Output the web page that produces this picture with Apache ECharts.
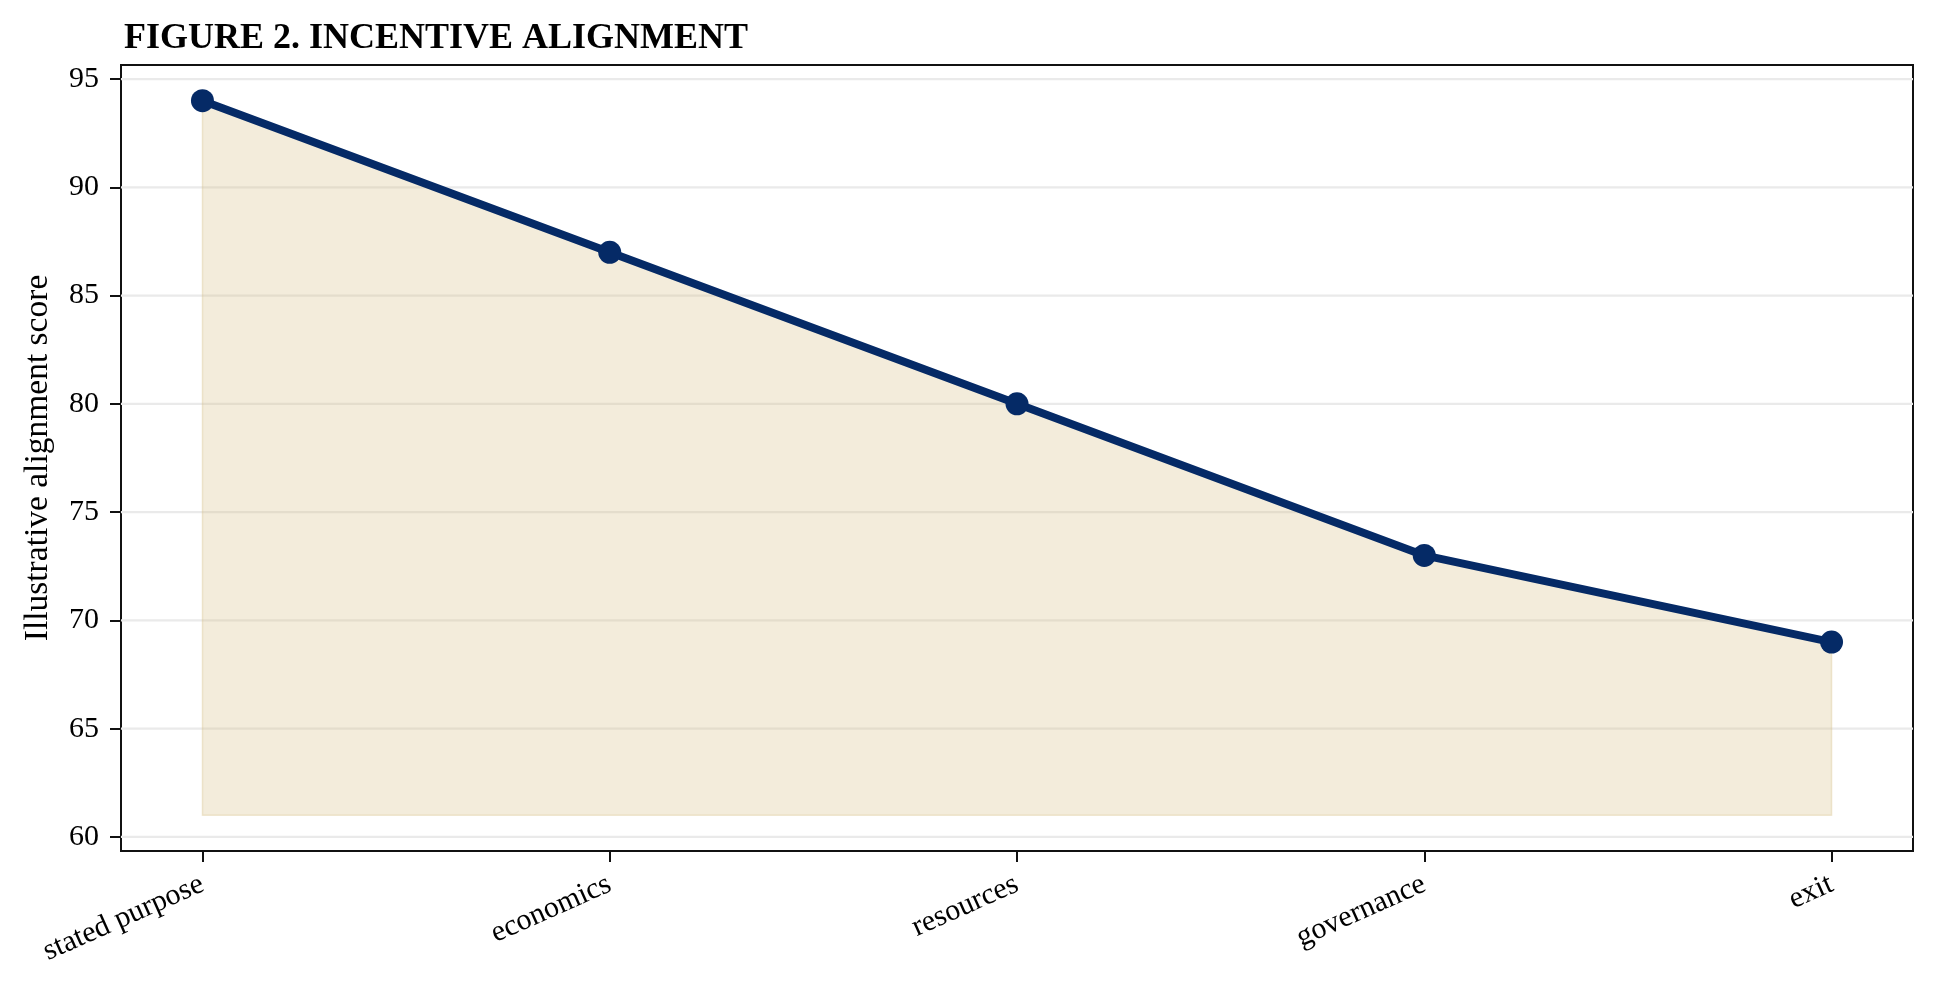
<!DOCTYPE html>
<html>
<head>
<meta charset="utf-8">
<script src="https://cdn.jsdelivr.net/npm/echarts@6/dist/echarts.min.js"></script>
<style>
html,body{margin:0;padding:0;background:#fff;}
#chart{width:1937px;height:983px;}
</style>
</head>
<body>
<div id="chart"></div>
<script>
const titleText = 'FIGURE 2. INCENTIVE ALIGNMENT';
const yAxisName = 'Illustrative alignment score';
const categories = ['stated purpose', 'economics', 'resources', 'governance', 'exit'];
const scores = [94, 87, 80, 73, 69];
const fillBase = 61;
const yTicks = [60, 65, 70, 75, 80, 85, 90, 95];
const xTicks = [0, 1, 2, 3, 4];

const FONT = '"Liberation Serif", "Times New Roman", serif';
const NAVY = '#052a66';

const lineData = categories.map((c, i) => [i, scores[i]]);
const gridData = yTicks.map(v => [0, v]);

const chart = echarts.init(document.getElementById('chart'), null, {renderer: 'canvas'});
chart.setOption({
  animation: false,
  backgroundColor: '#ffffff',
  title: {
    text: titleText,
    left: 119,
    top: 16,
    textStyle: {fontFamily: FONT, fontWeight: 'bold', fontSize: 36, color: '#000'}
  },
  grid: {
    left: 121, right: 24, top: 65, bottom: 132,
    show: true, borderColor: '#111', borderWidth: 2, backgroundColor: 'transparent'
  },
  xAxis: {
    type: 'value',
    min: -0.2, max: 4.2,
    axisLine: {show: false, onZero: false},
    splitLine: {show: false},
    axisTick: {show: true, customValues: xTicks, length: 11, lineStyle: {color: '#111', width: 2}},
    axisLabel: {
      customValues: xTicks,
      rotate: 24,
      margin: 32,
      fontFamily: FONT, fontSize: 30, color: '#000',
      formatter: v => categories[Math.round(v)]
    }
  },
  yAxis: {
    type: 'value',
    min: 59.35, max: 95.65,
    name: yAxisName,
    nameLocation: 'middle',
    nameGap: 66,
    nameRotate: 90,
    nameTextStyle: {fontFamily: FONT, fontSize: 33.5, color: '#000'},
    axisLine: {show: false, onZero: false},
    splitLine: {show: false},
    axisTick: {show: true, customValues: yTicks, length: 11, lineStyle: {color: '#111', width: 2}},
    axisLabel: {customValues: yTicks, margin: 22, fontFamily: FONT, fontSize: 30, color: '#000'}
  },
  series: [
    {
      name: 'grid', type: 'custom', data: gridData, silent: true, z: 0,
      encode: {x: 0, y: 1},
      renderItem: function (params, api) {
        const cs = params.coordSys;
        const y = api.coord([0, api.value(1)])[1];
        return {
          type: 'line',
          shape: {x1: cs.x, y1: y, x2: cs.x + cs.width, y2: y},
          style: {stroke: '#eaeaea', lineWidth: 2.2}
        };
      }
    },
    {
      name: 'band', type: 'custom', data: lineData, silent: true, z: 1,
      encode: {x: 0, y: 1},
      renderItem: function (params, api) {
        if (params.dataIndex !== 0) return null;
        const pts = scores.map((s, i) => api.coord([i, s]));
        pts.push(api.coord([scores.length - 1, fillBase]));
        pts.push(api.coord([0, fillBase]));
        return {
          type: 'polygon',
          shape: {points: pts},
          style: {fill: 'rgba(215,192,135,0.3)', stroke: 'rgba(215,192,135,0.35)', lineWidth: 1.5}
        };
      }
    },
    {
      name: 'score', type: 'line', data: lineData, z: 3,
      symbol: 'circle', symbolSize: 23,
      itemStyle: {color: NAVY},
      lineStyle: {color: NAVY, width: 8}
    }
  ]
});
</script>
</body>
</html>
